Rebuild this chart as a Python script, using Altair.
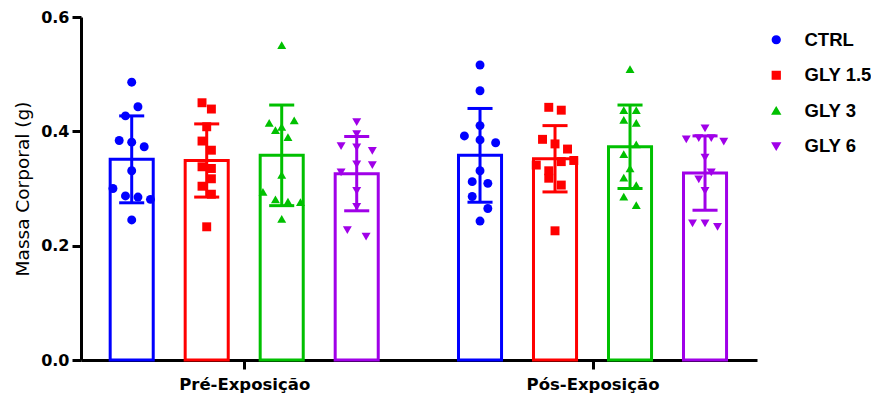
import altair as alt
import pandas as pd

# ---------------- data ----------------
groups = ["Pré-Exposição", "Pós-Exposição"]
series = ["CTRL", "GLY 1.5", "GLY 3", "GLY 6"]
colors = ["#0000FF", "#FF0000", "#00C000", "#A000E8"]
shapes = ["circle", "square", "triangle-up", "triangle-down"]

mean_pre = [0.351, 0.349, 0.358, 0.326]
sd_pre = [0.076, 0.064, 0.088, 0.065]
mean_pos = [0.358, 0.352, 0.373, 0.327]
sd_pos = [0.082, 0.058, 0.073, 0.065]

# individual animals (value, horizontal scatter slot)
ctrl_pre = [0.486, 0.443, 0.427, 0.384, 0.381, 0.373, 0.331, 0.300, 0.287, 0.285, 0.281, 0.245]
ctrl_pre_slot = [0, 1, -1, -2, 0, 2, 0, -3, -1, 1, 3, 0]
gly15_pre = [0.450, 0.439, 0.408, 0.383, 0.367, 0.338, 0.335, 0.317, 0.304, 0.290, 0.233]
gly15_pre_slot = [-0.75, 0.75, 0, -0.75, 0.75, -0.75, 0.75, 0.75, -0.75, 0.75, 0]
gly3_pre = [0.551, 0.419, 0.415, 0.408, 0.402, 0.390, 0.324, 0.294, 0.281, 0.277, 0.276, 0.247]
gly3_pre_slot = [0, 2, -2, 0, -1, 1, 0, -3, -1, 1, 3, 0]
gly6_pre = [0.416, 0.395, 0.374, 0.372, 0.366, 0.342, 0.341, 0.328, 0.296, 0.268, 0.227, 0.216]
gly6_pre_slot = [0, 0, -2.5, 0, 2.5, 0, 2.5, -2.5, 0, 0, -1.5, 1.5]

ctrl_pos = [0.516, 0.471, 0.410, 0.392, 0.385, 0.380, 0.331, 0.312, 0.309, 0.286, 0.265, 0.243]
ctrl_pos_slot = [0, 0, 0, -2.5, 0, 2.5, 0, -1.25, 1.25, -1.25, 1.25, 0]
gly15_pos = [0.442, 0.437, 0.386, 0.378, 0.369, 0.349, 0.347, 0.341, 0.331, 0.318, 0.306, 0.226]
gly15_pos_slot = [-1, 1, -2, 0, 2, 3, 1, -3, -1, -1, 1, 0]
gly3_pos = [0.509, 0.437, 0.437, 0.420, 0.415, 0.377, 0.360, 0.335, 0.319, 0.306, 0.286, 0.271]
gly3_pos_slot = [0, -1, 1, -1, 1, 1, -1, 0, -1, 1, -1, 1]
gly6_pos = [0.405, 0.388, 0.388, 0.386, 0.382, 0.354, 0.328, 0.316, 0.296, 0.239, 0.239, 0.233]
gly6_pos_slot = [0, -1, 1, -3, 3, 0, 1, -1, 0, -2, 0, 2]

# ---------------- layout constants (in bar-spacing units) ----------------
GROUP_GAP = 4.644
BAR_HALF = 0.287
CAP_HALF = 0.167
SLOT = 1 / 12
X_DOMAIN = [-2.176, 6.837]


def center(g, s):
    return g * GROUP_GAP + (s - 1.5)


summary_rows = []
for g, (means, sds) in enumerate([(mean_pre, sd_pre), (mean_pos, sd_pos)]):
    for s, name in enumerate(series):
        c = center(g, s)
        summary_rows.append(dict(
            group=groups[g], series=name, mean=means[s], sd=sds[s],
            lo=means[s] - sds[s], hi=means[s] + sds[s],
            xc=c, xl=c - BAR_HALF, xr=c + BAR_HALF,
            cl=c - CAP_HALF, cr=c + CAP_HALF, zero=0.0))
summary = pd.DataFrame(summary_rows)

point_sets = [
    [(ctrl_pre, ctrl_pre_slot), (gly15_pre, gly15_pre_slot), (gly3_pre, gly3_pre_slot), (gly6_pre, gly6_pre_slot)],
    [(ctrl_pos, ctrl_pos_slot), (gly15_pos, gly15_pos_slot), (gly3_pos, gly3_pos_slot), (gly6_pos, gly6_pos_slot)],
]
point_rows = []
for g, sets in enumerate(point_sets):
    for s, (vals, slots) in enumerate(sets):
        for v, sl in zip(vals, slots):
            point_rows.append(dict(group=groups[g], series=series[s], value=v,
                                   xp=center(g, s) + sl * SLOT))
points = pd.DataFrame(point_rows)

# ---------------- chart ----------------
xscale = alt.Scale(domain=X_DOMAIN, nice=False, zero=False)
yscale = alt.Scale(domain=[0, 0.6], nice=False)
col_scale = alt.Scale(domain=series, range=colors)
shape_scale = alt.Scale(domain=series, range=shapes)

label_expr = "datum.value < {:.3f} ? '{}' : '{}'".format(GROUP_GAP / 2, groups[0], groups[1])

x_axis = alt.Axis(values=[0, GROUP_GAP], labelExpr=label_expr, title=None,
                  labelFontSize=16.5, labelPadding=7)
y_axis = alt.Axis(values=[0, 0.2, 0.4, 0.6], format=".1f", title="Massa Corporal (g)",
                  labelFontSize=16, labelPadding=3, titlePadding=8)

legend = alt.Legend(title=None, orient="none", legendX=686, legendY=13.5,
                    symbolSize=60, labelFontSize=18.5, labelOffset=19,
                    labelFont="Liberation Sans", rowPadding=16.5, padding=0)

color_enc = alt.Color("series:N", scale=col_scale, legend=legend)

bars = alt.Chart(summary).mark_rect(filled=False, fill="white", strokeWidth=3).encode(
    x=alt.X("xl:Q", scale=xscale, axis=x_axis),
    x2="xr:Q",
    y=alt.Y("mean:Q", scale=yscale, axis=y_axis),
    y2="zero:Q",
    color=color_enc,
)

err = alt.Chart(summary).mark_rule(strokeWidth=3).encode(
    x="xc:Q", y="lo:Q", y2="hi:Q", color=color_enc,
)
cap_hi = alt.Chart(summary).mark_rule(strokeWidth=3).encode(
    x="cl:Q", x2="cr:Q", y="hi:Q", color=color_enc,
)
cap_lo = alt.Chart(summary).mark_rule(strokeWidth=3).encode(
    x="cl:Q", x2="cr:Q", y="lo:Q", color=color_enc,
)

pts = alt.Chart(points).mark_point(filled=True, size=80, opacity=1).encode(
    x="xp:Q",
    y="value:Q",
    color=color_enc,
    shape=alt.Shape("series:N", scale=shape_scale, legend=legend),
)

chart = alt.layer(bars, err, cap_hi, cap_lo, pts).properties(
    width=676, height=343,
    autosize=alt.AutoSizeParams(type="none"),
    padding={"left": 73, "top": 9, "right": 114, "bottom": 36},
).configure_view(stroke=None).configure_axis(
    labelFont="DejaVu Sans", labelFontWeight="bold", labelColor="black",
    titleFont="DejaVu Sans", titleFontWeight="normal", titleFontSize=18.5, titleColor="black",
    domainColor="black", domainWidth=3, tickColor="black", tickWidth=3, tickSize=9,
    grid=False,
).configure_legend(
    labelFontWeight="bold", labelColor="black",
)

chart.save("out.html", embed_options={"renderer": "svg", "actions": False})
